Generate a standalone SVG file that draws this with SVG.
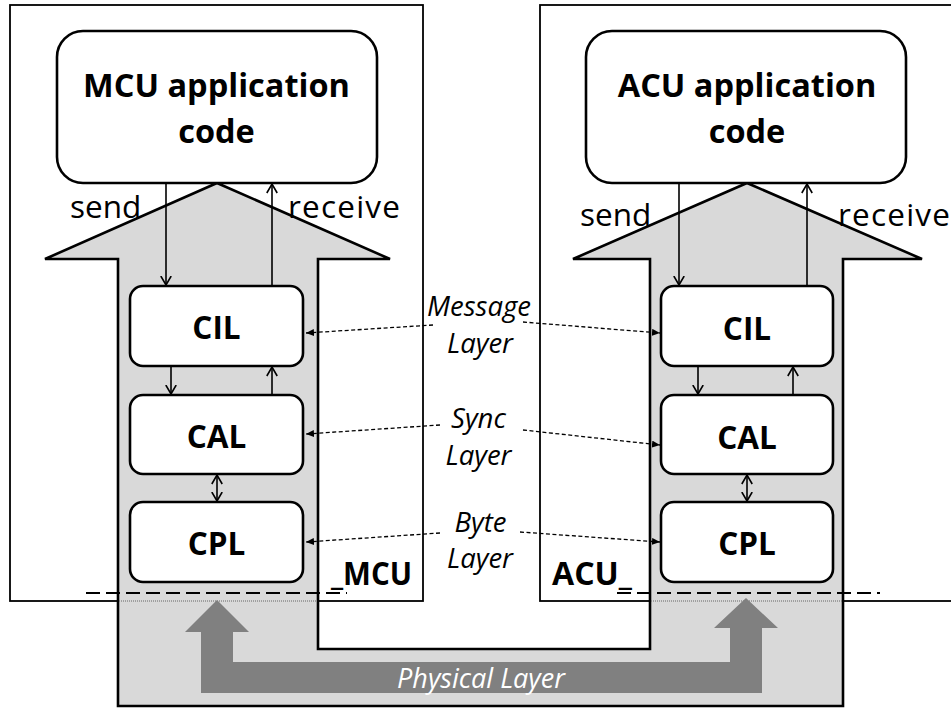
<svg xmlns="http://www.w3.org/2000/svg" width="951" height="708" viewBox="0 0 951 708">
  <style>
    .frame { fill: #fff; stroke: #000; stroke-width: 1.8; }
    .stack { fill: #d9d9d9; stroke: #000; stroke-width: 2.6; stroke-linejoin: miter; }
    .box { fill: #fff; stroke: #000; stroke-width: 2.6; }
    .title { font-family: "Open Sans", "Liberation Sans", sans-serif; font-weight: bold; font-size: 32.5px; fill: #000; text-anchor: middle; }
    .layer { font-family: "Open Sans", "Liberation Sans", sans-serif; font-weight: bold; font-size: 31.5px; fill: #000; text-anchor: middle; }
    .unit { font-family: "Open Sans", "Liberation Sans", sans-serif; font-weight: bold; font-size: 32px; fill: #000; }
    .verb { font-family: "Open Sans", "Liberation Sans", sans-serif; font-size: 31.5px; fill: #000; }
    .proto { font-family: "Open Sans", "Liberation Sans", sans-serif; font-style: italic; font-size: 27.5px; fill: #000; text-anchor: middle; }
    .phys { font-family: "Open Sans", "Liberation Sans", sans-serif; font-style: italic; font-size: 27px; fill: #fff; text-anchor: middle; }
    .flow { fill: none; stroke: #000; stroke-width: 1.6; }
    .peer { fill: none; stroke: #000; stroke-width: 1.3; stroke-dasharray: 4 2.5; }
    .boundary { fill: none; stroke: #000; stroke-width: 2; stroke-dasharray: 14 6; }
    .ghost { fill: none; stroke: #666; stroke-width: 1; stroke-dasharray: 1 1; }
  </style>
  <defs>
    <marker id="open" viewBox="0 0 10 12" refX="9.5" refY="6" markerWidth="10" markerHeight="12" markerUnits="userSpaceOnUse" orient="auto-start-reverse">
      <path d="M0.5,0.8 L9.5,6 L0.5,11.2" fill="none" stroke="#000" stroke-width="1.6"/>
    </marker>
    <marker id="solid" viewBox="0 0 8 7" refX="8" refY="3.5" markerWidth="8" markerHeight="7" markerUnits="userSpaceOnUse" orient="auto">
      <path d="M0,0 L8,3.5 L0,7 Z" fill="#000"/>
    </marker>
  </defs>

  <!-- controller frames -->
  <g id="mcu-frame">
    <rect class="frame" x="10" y="5" width="413" height="596"/>
  </g>
  <g id="acu-frame">
    <rect class="frame" x="540" y="5" width="430" height="596"/>
  </g>

  <!-- shared protocol stack: two up-arrows joined below -->
  <g id="stack">
    <path class="stack" d="M217,183 L390,259 L318,259 L318,649 L650,649 L650,259 L573,259 L747,183 L922,259 L843,259 L843,706 L118,706 L118,259 L45,259 Z"/>
    <line class="ghost" x1="119" y1="601" x2="317" y2="601"/>
    <line class="ghost" x1="651" y1="601" x2="842" y2="601"/>
  </g>

  <!-- physical link -->
  <g id="physical-layer">
    <path d="M217,600 L249,632 L233,632 L233,662 L730,662 L730,628 L714,628 L746,598 L778,628 L762,628 L762,693 L201,693 L201,632 L185,632 Z" fill="#808080"/>
    <text class="phys" x="481" y="688">Physical Layer</text>
  </g>

  <!-- hardware boundaries -->
  <g id="boundaries">
    <line class="boundary" x1="86" y1="593" x2="347" y2="593"/>
    <line class="boundary" x1="617" y1="593" x2="880" y2="593"/>
  </g>

  <!-- MCU side -->
  <g id="mcu-app">
    <rect class="box" x="57" y="31" width="320" height="152" rx="26"/>
    <text class="title" x="216.5" y="97">MCU application</text>
    <text class="title" x="216.5" y="143">code</text>
  </g>
  <g id="mcu-cil">
    <rect class="box" x="130" y="286" width="173" height="80" rx="13"/>
    <text class="layer" x="216.5" y="339">CIL</text>
  </g>
  <g id="mcu-cal">
    <rect class="box" x="130" y="395" width="173" height="79" rx="13"/>
    <text class="layer" x="216.5" y="448">CAL</text>
  </g>
  <g id="mcu-cpl">
    <rect class="box" x="130" y="502" width="173" height="80" rx="13"/>
    <text class="layer" x="216.5" y="555">CPL</text>
  </g>
  <g id="mcu-label">
    <text class="unit" x="331" y="585" textLength="81" lengthAdjust="spacingAndGlyphs">_MCU</text>
  </g>

  <!-- ACU side -->
  <g id="acu-app">
    <rect class="box" x="586" y="31" width="320" height="152" rx="26"/>
    <text class="title" x="747" y="97">ACU application</text>
    <text class="title" x="747" y="143">code</text>
  </g>
  <g id="acu-cil">
    <rect class="box" x="661" y="286" width="172" height="80" rx="13"/>
    <text class="layer" x="747" y="340">CIL</text>
  </g>
  <g id="acu-cal">
    <rect class="box" x="661" y="395" width="172" height="79" rx="13"/>
    <text class="layer" x="747" y="449">CAL</text>
  </g>
  <g id="acu-cpl">
    <rect class="box" x="661" y="502" width="172" height="80" rx="13"/>
    <text class="layer" x="747" y="555">CPL</text>
  </g>
  <g id="acu-label">
    <text class="unit" x="552" y="585" textLength="80" lengthAdjust="spacingAndGlyphs">ACU_</text>
  </g>

  <!-- peer layer names -->
  <g id="peer-labels">
    <text class="proto" x="479" y="316">Message</text>
    <text class="proto" x="480" y="353">Layer</text>
    <text class="proto" x="478.5" y="428">Sync</text>
    <text class="proto" x="478.5" y="465">Layer</text>
    <text class="proto" x="480.5" y="532">Byte</text>
    <text class="proto" x="480" y="568">Layer</text>
  </g>

  <!-- verbs -->
  <g id="verbs">
    <text class="verb" x="70" y="218">send</text>
    <text class="verb" x="288" y="218" textLength="112" lengthAdjust="spacing">receive</text>
    <text class="verb" x="580" y="226">send</text>
    <text class="verb" x="838" y="226" textLength="112" lengthAdjust="spacing">receive</text>
  </g>

  <!-- connectors -->
  <g id="connectors">
    <line class="flow" x1="166" y1="183" x2="166" y2="285" marker-end="url(#open)"/>
    <line class="flow" x1="272" y1="286" x2="272" y2="184" marker-end="url(#open)"/>
    <line class="flow" x1="171" y1="366" x2="171" y2="394" marker-end="url(#open)"/>
    <line class="flow" x1="272" y1="395" x2="272" y2="367" marker-end="url(#open)"/>
    <line class="flow" x1="217" y1="475" x2="217" y2="501" marker-start="url(#open)" marker-end="url(#open)"/>

    <line class="flow" x1="679" y1="183" x2="679" y2="285" marker-end="url(#open)"/>
    <line class="flow" x1="807" y1="286" x2="807" y2="184" marker-end="url(#open)"/>
    <line class="flow" x1="698" y1="366" x2="698" y2="394" marker-end="url(#open)"/>
    <line class="flow" x1="793" y1="395" x2="793" y2="367" marker-end="url(#open)"/>
    <line class="flow" x1="747" y1="475" x2="747" y2="501" marker-start="url(#open)" marker-end="url(#open)"/>

    <line class="peer" x1="433" y1="325" x2="306" y2="333" marker-end="url(#solid)"/>
    <line class="peer" x1="523" y1="322" x2="660" y2="333" marker-end="url(#solid)"/>
    <line class="peer" x1="440" y1="425" x2="306" y2="434" marker-end="url(#solid)"/>
    <line class="peer" x1="523" y1="430" x2="660" y2="445" marker-end="url(#solid)"/>
    <line class="peer" x1="440" y1="533" x2="306" y2="542" marker-end="url(#solid)"/>
    <line class="peer" x1="520" y1="532" x2="660" y2="542" marker-end="url(#solid)"/>
  </g>
</svg>
